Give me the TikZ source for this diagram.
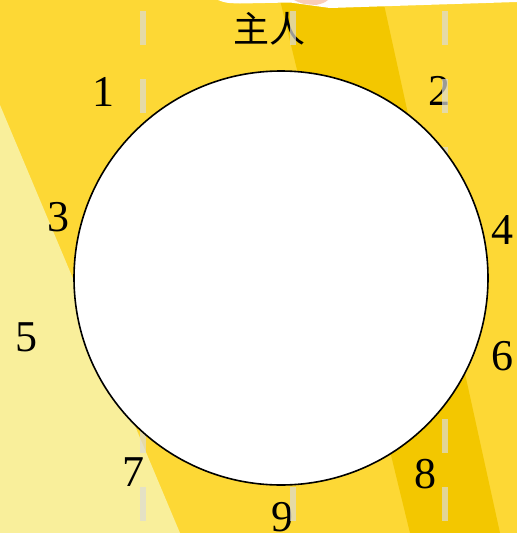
\documentclass[tikz,border=0pt]{standalone}
\usepackage{fontspec}
\setmainfont{Liberation Serif}
\newfontfamily\cjkfont{Noto Sans CJK SC}
\usetikzlibrary{positioning}
\definecolor{bgyellow}{HTML}{FDD835}
\definecolor{bgdark}{HTML}{F3C700}
\definecolor{bgpale}{HTML}{F9EF9B}
\definecolor{guidegray}{HTML}{DCDCD6}
\definecolor{blushpink}{HTML}{F9CDB8}

\begin{document}
\begin{tikzpicture}[x=1pt, y=-1pt, font=\fontsize{44}{50}\selectfont,
    seat/.style={inner sep=0pt},
    guide/.style={draw=guidegray, opacity=0.7, line width=6pt, dash pattern=on 34pt off 34pt}]
  \useasboundingbox (0,0) rectangle (517,533);
  % backdrop
  \fill[bgyellow] (0,0) rectangle (517,533);
  \fill[bgdark] (280,0) -- (383,0) -- (500,533) -- (410,533) -- cycle;
  \fill[bgpale] (0,105) -- (180,533) -- (0,533) -- cycle;
  \fill[white] (218,0) .. controls (226,3) .. (240,3.5) -- (290,2.5)
    -- (330,8) -- (517,2) -- (517,0) -- cycle;
  \fill[blushpink] (294,0) .. controls (302,4) .. (316,5) .. controls (324,3) .. (328,0) -- cycle;

  % labels
  \node[seat, font=\cjkfont\fontsize{36}{40}\selectfont] (owner) at (269,29) {主人};
  \node[seat] (n1) at (103,92) {1};
  \node[seat] (n2) at (439,91) {2};
  \node[seat] (n3) at (58,217) {3};
  \node[seat] (n4) at (502,230) {4};
  \node[seat] (n5) at (26,337) {5};
  \node[seat] (n6) at (502,356) {6};
  \node[seat] (n7) at (133,472) {7};
  \node[seat] (n8) at (425,474) {8};
  \node[seat] (n9) at (282,517) {9};

  % guides
  \foreach \gx in {143,293,445}
    \draw[guide] (\gx,11) -- (\gx,533);

  % table
  \node[circle, draw, fill=white, line width=1.6pt, minimum size=414pt, inner sep=0pt] (table) at (281,278) {};
\end{tikzpicture}
\end{document}
